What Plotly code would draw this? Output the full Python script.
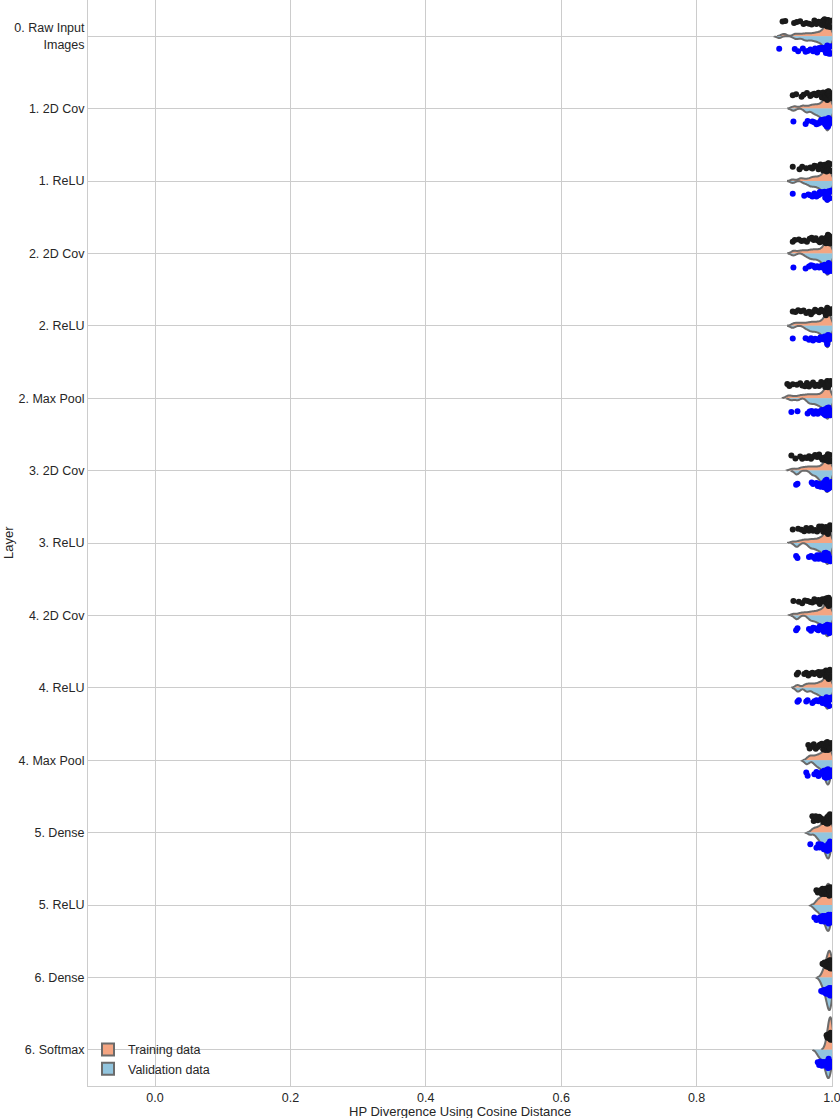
import plotly.graph_objects as go

layers = [
    "0. Raw Input<br>Images", "1. 2D Cov", "1. ReLU", "2. 2D Cov", "2. ReLU",
    "2. Max Pool", "3. 2D Cov", "3. ReLU", "4. 2D Cov", "4. ReLU",
    "4. Max Pool", "5. Dense", "5. ReLU", "6. Dense", "6. Softmax",
]

# cosine values read per layer, training data
train = [
    [0.927, 0.931, 0.944, 0.948, 0.953, 0.958, 0.962, 0.966, 0.970, 0.974, 0.977, 0.980, 0.983, 0.985,
     0.987, 0.989, 0.990, 0.991, 0.992, 0.993, 0.993, 0.994, 0.994, 0.995, 0.995, 0.996, 0.997, 0.999],
    [0.942, 0.947, 0.955, 0.958, 0.963, 0.968, 0.971, 0.974, 0.977, 0.980, 0.983, 0.985, 0.987, 0.989,
     0.990, 0.991, 0.992, 0.993, 0.993, 0.994, 0.994, 0.995, 0.995, 0.996, 0.997, 0.999],
    [0.942, 0.952, 0.956, 0.962, 0.968, 0.971, 0.974, 0.977, 0.980, 0.983, 0.985, 0.987, 0.989, 0.990,
     0.991, 0.992, 0.993, 0.993, 0.994, 0.994, 0.995, 0.995, 0.996, 0.997, 0.999],
    [0.942, 0.945, 0.951, 0.955, 0.959, 0.963, 0.967, 0.970, 0.973, 0.976, 0.979, 0.982, 0.985, 0.987,
     0.989, 0.990, 0.991, 0.992, 0.993, 0.993, 0.994, 0.994, 0.995, 0.995, 0.996, 0.997, 0.999],
    [0.942, 0.946, 0.950, 0.954, 0.958, 0.962, 0.966, 0.969, 0.972, 0.975, 0.978, 0.981, 0.984, 0.986,
     0.988, 0.990, 0.991, 0.992, 0.993, 0.993, 0.994, 0.994, 0.995, 0.995, 0.996, 0.997, 0.999],
    [0.934, 0.937, 0.942, 0.948, 0.953, 0.956, 0.960, 0.963, 0.966, 0.969, 0.972, 0.975, 0.978, 0.981,
     0.984, 0.986, 0.988, 0.990, 0.991, 0.992, 0.993, 0.993, 0.994, 0.994, 0.995, 0.995, 0.996, 0.998],
    [0.940, 0.946, 0.953, 0.956, 0.960, 0.963, 0.966, 0.969, 0.972, 0.975, 0.978, 0.981, 0.984, 0.986,
     0.988, 0.990, 0.991, 0.992, 0.993, 0.993, 0.994, 0.994, 0.995, 0.995, 0.996, 0.997, 0.999],
    [0.942, 0.950, 0.955, 0.959, 0.962, 0.966, 0.969, 0.972, 0.975, 0.978, 0.981, 0.983, 0.985, 0.987,
     0.989, 0.990, 0.991, 0.992, 0.993, 0.993, 0.994, 0.994, 0.995, 0.995, 0.996, 0.997, 0.999],
    [0.943, 0.951, 0.956, 0.960, 0.964, 0.968, 0.971, 0.974, 0.977, 0.980, 0.982, 0.984, 0.986, 0.988,
     0.990, 0.991, 0.992, 0.993, 0.993, 0.994, 0.994, 0.995, 0.995, 0.996, 0.997, 0.999],
    [0.948, 0.950, 0.959, 0.962, 0.965, 0.968, 0.971, 0.974, 0.977, 0.980, 0.982, 0.984, 0.986, 0.988,
     0.990, 0.991, 0.992, 0.993, 0.993, 0.994, 0.994, 0.995, 0.995, 0.996, 0.997, 0.999],
    [0.965, 0.967, 0.970, 0.973, 0.976, 0.979, 0.981, 0.983, 0.985, 0.987, 0.989, 0.990, 0.991, 0.992,
     0.993, 0.993, 0.994, 0.994, 0.995, 0.995, 0.996, 0.996, 0.997, 0.999],
    [0.971, 0.973, 0.976, 0.979, 0.981, 0.983, 0.985, 0.987, 0.988, 0.989, 0.990, 0.991, 0.992, 0.993,
     0.993, 0.994, 0.994, 0.995, 0.995, 0.996, 0.996, 0.997, 0.998, 0.999],
    [0.977, 0.979, 0.981, 0.983, 0.985, 0.986, 0.988, 0.989, 0.990, 0.991, 0.992, 0.993, 0.993, 0.994,
     0.994, 0.995, 0.995, 0.996, 0.996, 0.996, 0.997, 0.997, 0.998, 0.999],
    [0.986, 0.988, 0.989, 0.990, 0.991, 0.992, 0.993, 0.994, 0.994, 0.995, 0.995, 0.996, 0.996, 0.996,
     0.997, 0.997, 0.997, 0.997, 0.998, 0.998, 0.998, 0.999, 0.999, 1.0],
    [0.992, 0.993, 0.994, 0.995, 0.995, 0.996, 0.996, 0.997, 0.997, 0.997, 0.997, 0.998, 0.998, 0.998,
     0.998, 0.998, 0.998, 0.999, 0.999, 0.999, 0.999, 0.999, 1.0, 1.0],
]

# validation data
valid = [
    [0.922, 0.945, 0.950, 0.957, 0.961, 0.964, 0.968, 0.972, 0.975, 0.978, 0.981, 0.983, 0.985, 0.987,
     0.989, 0.990, 0.991, 0.992, 0.993, 0.993, 0.994, 0.994, 0.995, 0.995, 0.996, 0.997, 0.999],
    [0.943, 0.961, 0.964, 0.971, 0.974, 0.977, 0.980, 0.982, 0.984, 0.986, 0.988, 0.989, 0.990, 0.991,
     0.992, 0.993, 0.993, 0.994, 0.994, 0.995, 0.995, 0.996, 0.997, 0.999],
    [0.942, 0.959, 0.965, 0.968, 0.971, 0.974, 0.977, 0.980, 0.982, 0.984, 0.986, 0.988, 0.989, 0.990,
     0.991, 0.992, 0.993, 0.993, 0.994, 0.994, 0.995, 0.995, 0.996, 0.997, 0.999],
    [0.943, 0.961, 0.966, 0.969, 0.972, 0.975, 0.978, 0.981, 0.983, 0.985, 0.987, 0.989, 0.990, 0.991,
     0.992, 0.993, 0.993, 0.994, 0.994, 0.995, 0.995, 0.996, 0.997, 0.999],
    [0.942, 0.961, 0.966, 0.969, 0.972, 0.975, 0.978, 0.981, 0.983, 0.985, 0.987, 0.989, 0.990, 0.991,
     0.992, 0.993, 0.993, 0.994, 0.994, 0.995, 0.995, 0.996, 0.997, 0.999],
    [0.940, 0.949, 0.964, 0.967, 0.970, 0.973, 0.976, 0.979, 0.981, 0.983, 0.985, 0.987, 0.989, 0.990,
     0.991, 0.992, 0.993, 0.993, 0.994, 0.994, 0.995, 0.995, 0.996, 0.997, 0.999],
    [0.947, 0.949, 0.970, 0.972, 0.977, 0.979, 0.981, 0.983, 0.985, 0.986, 0.987, 0.988, 0.989, 0.990,
     0.991, 0.992, 0.993, 0.993, 0.994, 0.994, 0.995, 0.995, 0.996, 0.997, 0.999],
    [0.947, 0.949, 0.966, 0.969, 0.972, 0.975, 0.978, 0.980, 0.982, 0.984, 0.986, 0.988, 0.989, 0.990,
     0.991, 0.992, 0.993, 0.993, 0.994, 0.994, 0.995, 0.995, 0.996, 0.997, 0.999],
    [0.947, 0.949, 0.966, 0.969, 0.972, 0.975, 0.978, 0.980, 0.982, 0.984, 0.986, 0.988, 0.989, 0.990,
     0.991, 0.992, 0.993, 0.993, 0.994, 0.994, 0.995, 0.995, 0.996, 0.997, 0.999],
    [0.949, 0.951, 0.962, 0.964, 0.971, 0.974, 0.977, 0.980, 0.982, 0.984, 0.986, 0.988, 0.989, 0.990,
     0.991, 0.992, 0.993, 0.993, 0.994, 0.994, 0.995, 0.995, 0.996, 0.997, 0.999],
    [0.962, 0.964, 0.974, 0.977, 0.980, 0.982, 0.984, 0.986, 0.988, 0.989, 0.990, 0.991, 0.992, 0.993,
     0.993, 0.994, 0.994, 0.995, 0.995, 0.996, 0.996, 0.997, 0.998, 0.999],
    [0.968, 0.977, 0.980, 0.982, 0.984, 0.986, 0.987, 0.988, 0.989, 0.990, 0.991, 0.992, 0.993, 0.993,
     0.994, 0.994, 0.995, 0.995, 0.996, 0.996, 0.997, 0.997, 0.998, 0.999],
    [0.974, 0.977, 0.980, 0.982, 0.984, 0.986, 0.987, 0.988, 0.989, 0.990, 0.991, 0.992, 0.993, 0.993,
     0.994, 0.994, 0.995, 0.995, 0.996, 0.996, 0.997, 0.997, 0.998, 0.999],
    [0.984, 0.986, 0.988, 0.989, 0.990, 0.991, 0.992, 0.993, 0.994, 0.994, 0.995, 0.995, 0.996, 0.996,
     0.996, 0.997, 0.997, 0.997, 0.998, 0.998, 0.998, 0.999, 0.999, 1.0],
    [0.979, 0.981, 0.983, 0.985, 0.987, 0.988, 0.989, 0.990, 0.991, 0.992, 0.993, 0.993, 0.994, 0.994,
     0.995, 0.995, 0.996, 0.996, 0.996, 0.997, 0.997, 0.998, 0.999, 1.0],
]

FONT = "Arial, Liberation Sans, sans-serif"


def flatten(groups):
    xs, ys = [], []
    for name, vals in zip(layers, groups):
        xs += vals
        ys += [name] * len(vals)
    return xs, ys


fig = go.Figure()

for label, groups, side, fill, dot, pos in [
    ("Training data", train, "positive", "#f4a582", "#1a1a1a", 0.42),
    ("Validation data", valid, "negative", "#92c5de", "#0000ff", -0.42),
]:
    xs, ys = flatten(groups)
    fig.add_trace(go.Violin(
        x=xs, y=ys, orientation="h", name=label, side=side,
        fillcolor=fill, opacity=1, line=dict(color="#6b6b6b", width=2),
        bandwidth=0.0035, width=0.9, scalemode="width",
        points="all", pointpos=pos, jitter=0.16,
        marker=dict(color=dot, size=6, line=dict(width=0)),
        box_visible=False, meanline_visible=False, hoveron="violins+points",
    ))

fig.update_layout(
    width=840, height=1118,
    margin=dict(l=88, r=8, t=0, b=32),
    paper_bgcolor="white", plot_bgcolor="white",
    font=dict(family=FONT, size=12.5, color="#262626"),
    violinmode="overlay", violingap=0,
    legend=dict(x=0.0, y=0.002, xanchor="left", yanchor="bottom",
                bgcolor="rgba(0,0,0,0)", font=dict(size=12.5), tracegroupgap=0),
    xaxis=dict(
        range=[-0.099, 1.0], tickvals=[0, 0.2, 0.4, 0.6, 0.8, 1.0], tickformat=".1f",
        showgrid=True, gridcolor="#cccccc", gridwidth=1, zeroline=False,
        showline=True, linecolor="#cccccc", mirror=True, ticks="",
        ticklabeloverflow="allow", automargin=False,
    ),
    yaxis=dict(
        categoryorder="array", categoryarray=layers[::-1], range=[-0.5, 14.5],
        showgrid=True, gridcolor="#cccccc", gridwidth=1, zeroline=False,
        showline=True, linecolor="#cccccc", mirror=True, ticks="",
        automargin=False,
    ),
    annotations=[
        dict(text="HP Divergence Using Cosine Distance", xref="paper", yref="paper",
             x=0.5, y=0, yanchor="top", yshift=-16, showarrow=False, font=dict(size=13)),
        dict(text="Layer", xref="paper", yref="paper", x=0, xanchor="center", xshift=-80,
             y=0.5, textangle=-90, showarrow=False, font=dict(size=13)),
    ],
)

# the page body has a default 8px margin; drop it so the figure sits at the corner
fig.write_html("out.html", config={"displayModeBar": False},
               post_script="document.body.style.margin='0';")
